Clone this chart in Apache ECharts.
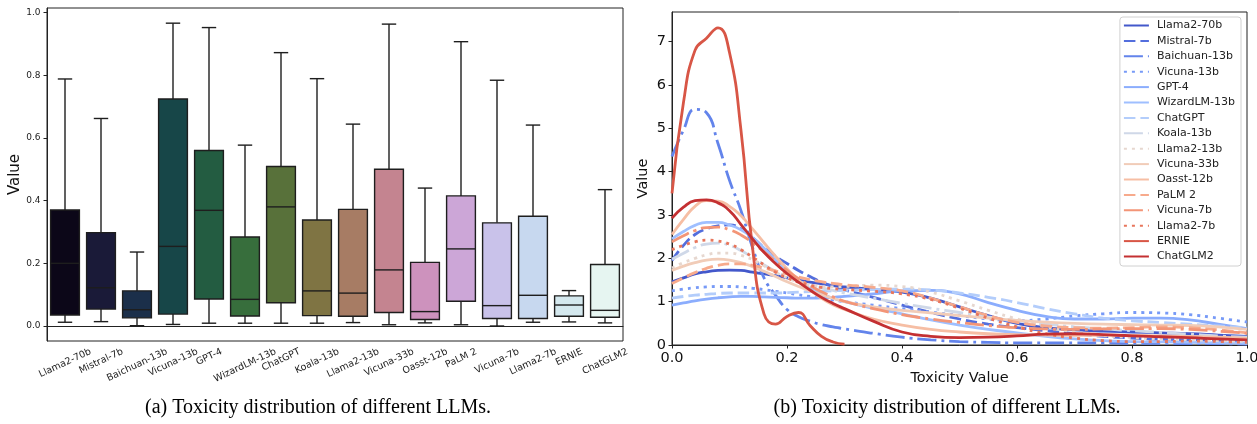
<!DOCTYPE html>
<html><head><meta charset="utf-8">
<script src="https://cdn.jsdelivr.net/npm/echarts@6/dist/echarts.min.js"></script>
<style>html,body{margin:0;padding:0;background:#fff}#chart{width:1257px;height:424px}</style>
</head><body><div id="chart"></div>
<script>
// ---------- Panel (a): box plot data ----------
const models = ['Llama2-70b','Mistral-7b','Baichuan-13b','Vicuna-13b','GPT-4','WizardLM-13b','ChatGPT','Koala-13b','Llama2-13b','Vicuna-33b','Oasst-12b','PaLM 2','Vicuna-7b','Llama2-7b','ERNIE','ChatGLM2'];
const boxLow    = [0.012,0.014,0.001,0.005,0.009,0.009,0.009,0.009,0.011,0.004,0.010,0.004,0.000,0.012,0.013,0.010];
const boxQ1     = [0.035,0.054,0.026,0.038,0.086,0.032,0.074,0.033,0.031,0.043,0.021,0.079,0.024,0.024,0.031,0.028];
const boxMedian = [0.200,0.122,0.052,0.254,0.369,0.085,0.380,0.112,0.105,0.179,0.046,0.246,0.065,0.098,0.067,0.050];
const boxQ3     = [0.370,0.298,0.112,0.724,0.560,0.284,0.509,0.338,0.372,0.500,0.203,0.415,0.329,0.350,0.096,0.196];
const boxHigh   = [0.788,0.662,0.236,0.966,0.952,0.577,0.872,0.789,0.644,0.963,0.440,0.907,0.784,0.641,0.113,0.435];
const boxColors = ['#0c0718','#1a1a38','#1b2f4a','#174648','#235c41','#376e3c','#58713a','#7f7443','#a77c64','#c48490','#cd92bd','#cca6d7','#c9c2ea','#c7d8ef','#d4e8ee','#e6f5f1'];
const yTicksA = [0, 0.2, 0.4, 0.6, 0.8, 1.0];

// ---------- Panel (b): density curves ----------
const toxicityGrid = [0,0.02,0.04,0.06,0.08,0.10,0.12,0.14,0.16,0.18,0.20,0.22,0.24,0.26,0.28,0.30,0.35,0.40,0.45,0.50,0.55,0.60,0.65,0.70,0.75,0.80,0.85,0.90,0.95,1.0];
const densLlama2_70b = [1.46,1.55,1.64,1.69,1.72,1.73,1.72,1.68,1.64,1.60,1.55,1.50,1.45,1.41,1.37,1.34,1.28,1.22,1.08,0.88,0.68,0.50,0.40,0.35,0.32,0.30,0.28,0.26,0.23,0.20];
const densMistral_7b = [1.95,2.30,2.55,2.68,2.75,2.77,2.68,2.48,2.25,2.05,1.88,1.72,1.58,1.45,1.35,1.27,1.10,0.92,0.75,0.60,0.48,0.40,0.33,0.26,0.20,0.16,0.13,0.12,0.11,0.10];
const densBaichuan_13b = [4.35,4.96,5.44,5.36,4.65,3.80,3.10,2.25,1.55,1.15,0.82,0.65,0.55,0.47,0.42,0.37,0.27,0.18,0.12,0.08,0.06,0.05,0.05,0.05,0.05,0.04,0.04,0.03,0.03,0.02];
const densVicuna_13b = [1.25,1.29,1.32,1.34,1.35,1.35,1.34,1.31,1.28,1.24,1.20,1.16,1.12,1.08,1.04,1.00,0.92,0.84,0.76,0.68,0.60,0.56,0.60,0.67,0.72,0.75,0.74,0.70,0.62,0.53];
const densGPT_4 = [0.92,0.97,1.02,1.06,1.09,1.11,1.12,1.12,1.11,1.10,1.09,1.08,1.08,1.09,1.10,1.12,1.18,1.25,1.26,1.18,0.98,0.80,0.66,0.60,0.60,0.62,0.62,0.58,0.48,0.38];
const densWizardLM_13b = [2.45,2.62,2.76,2.83,2.83,2.77,2.66,2.48,2.24,1.96,1.70,1.47,1.30,1.18,1.08,1.00,0.85,0.72,0.58,0.46,0.36,0.28,0.20,0.14,0.10,0.08,0.07,0.06,0.05,0.04];
const densChatGPT = [1.08,1.12,1.15,1.17,1.19,1.20,1.20,1.20,1.20,1.20,1.21,1.22,1.23,1.24,1.25,1.26,1.28,1.29,1.27,1.20,1.10,0.98,0.84,0.72,0.62,0.56,0.52,0.48,0.44,0.40];
const densKoala_13b = [1.98,2.12,2.25,2.33,2.35,2.30,2.18,2.02,1.85,1.70,1.57,1.47,1.39,1.32,1.26,1.20,1.08,0.96,0.85,0.75,0.65,0.56,0.48,0.42,0.37,0.33,0.29,0.25,0.21,0.18];
const densLlama2_13b = [1.78,1.90,2.00,2.08,2.12,2.12,2.07,1.97,1.83,1.68,1.55,1.45,1.38,1.35,1.34,1.35,1.38,1.35,1.22,1.02,0.80,0.60,0.42,0.30,0.22,0.17,0.14,0.12,0.10,0.08];
const densVicuna_33b = [1.72,1.82,1.90,1.96,1.98,1.96,1.90,1.81,1.70,1.58,1.46,1.35,1.25,1.16,1.08,1.00,0.88,0.80,0.74,0.68,0.62,0.57,0.53,0.50,0.48,0.47,0.46,0.45,0.42,0.36];
const densOasst_12b = [2.55,2.90,3.20,3.33,3.32,3.20,2.98,2.68,2.36,2.05,1.76,1.50,1.27,1.08,0.93,0.82,0.60,0.46,0.36,0.30,0.26,0.24,0.23,0.22,0.22,0.22,0.21,0.20,0.18,0.15];
const densPaLM_2 = [1.42,1.55,1.67,1.77,1.84,1.87,1.87,1.84,1.78,1.71,1.64,1.57,1.51,1.46,1.42,1.39,1.33,1.25,1.08,0.88,0.68,0.52,0.44,0.40,0.39,0.40,0.42,0.40,0.35,0.28];
const densVicuna_7b = [2.38,2.52,2.64,2.71,2.72,2.66,2.54,2.36,2.15,1.93,1.72,1.53,1.37,1.23,1.11,1.01,0.84,0.70,0.60,0.52,0.45,0.40,0.37,0.36,0.37,0.38,0.38,0.36,0.32,0.27];
const densLlama2_7b = [2.20,2.30,2.38,2.42,2.40,2.33,2.20,2.03,1.85,1.68,1.55,1.45,1.38,1.33,1.30,1.28,1.24,1.18,1.05,0.85,0.62,0.42,0.26,0.16,0.10,0.08,0.08,0.09,0.08,0.06];
const densERNIE = [3.50,5.60,6.80,7.08,7.32,6.75,4.95,2.25,0.72,0.48,0.66,0.75,0.45,0.20,0.07,0.02,null,null,null,null,null,null,null,null,null,null,null,null,null,null];
const densChatGLM2 = [2.93,3.18,3.33,3.35,3.28,3.10,2.78,2.45,2.14,1.88,1.65,1.45,1.27,1.10,0.96,0.84,0.55,0.30,0.20,0.17,0.18,0.21,0.25,0.26,0.24,0.21,0.19,0.17,0.14,0.12];
const densityList = [densLlama2_70b,densMistral_7b,densBaichuan_13b,densVicuna_13b,densGPT_4,densWizardLM_13b,densChatGPT,densKoala_13b,densLlama2_13b,densVicuna_33b,densOasst_12b,densPaLM_2,densVicuna_7b,densLlama2_7b,densERNIE,densChatGLM2];
const lineColors = ['#4358cb','#536edd','#6384eb','#779af7','#8badfd','#9fbfff','#b3cdfb','#cfd8e8','#e6d7cf','#f1ccb8','#f6bea4','#f7aa8c','#f39577','#e8765c','#d85646','#c43032'];
const lineKinds = ['solid','dash','dashdot','dot','solid','solid','dash','dashdot','dot','solid','solid','dash','dashdot','dot','solid','solid'];
const yTicksB = [0,1,2,3,4,5,6,7];

// ---------- styles ----------
const LW = 2.8;
const dashPatterns = { solid: 'solid', dash: [11.5, 5], dot: [3, 5], dashdot: [19, 5, 3, 5] };
const EDGE = '#1e1e1e';
const LABEL_FS = 9.5, ROT = 25;
const th = ROT * Math.PI / 180;
const ctx = document.createElement('canvas').getContext('2d');
ctx.font = LABEL_FS + 'px "DejaVu Sans"';
// rotated tick labels centred under their tick (matplotlib-like): shift each label down by half its rotated height
const catData = models.map(m => {
  const w = ctx.measureText(m).width;
  const h = LABEL_FS * 1.15;
  const half = (w * Math.sin(th) + h * Math.cos(th)) / 2;
  const a = half * Math.cos(th), b = half * Math.sin(th);
  return { value: m, textStyle: {
    align: 'center', verticalAlign: 'top', fontSize: LABEL_FS, color: '#222', fontFamily: 'DejaVu Sans',
    padding: [Math.max(0, a - LABEL_FS / 2), 2 * b, 0, 0] } };
});

const boxData = models.map((m, i) => [i, boxLow[i], boxQ1[i], boxMedian[i], boxQ3[i], boxHigh[i]]);

function renderBox(params, api) {
  const c = api.value(0);
  const xC = api.coord([c, 0])[0];
  const half = api.size([1, 0])[0] * 0.4;
  const y = v => api.coord([c, v])[1];
  const yLo = y(api.value(1)), yQ1 = y(api.value(2)), yMed = y(api.value(3)), yQ3 = y(api.value(4)), yHi = y(api.value(5));
  const ls = { stroke: EDGE, lineWidth: 1.4 };
  return { type: 'group', children: [
    { type: 'line', shape: { x1: xC, y1: yQ3, x2: xC, y2: yHi }, style: ls },
    { type: 'line', shape: { x1: xC - half / 2, y1: yHi, x2: xC + half / 2, y2: yHi }, style: ls },
    { type: 'line', shape: { x1: xC, y1: yQ1, x2: xC, y2: yLo }, style: ls },
    { type: 'line', shape: { x1: xC - half / 2, y1: yLo, x2: xC + half / 2, y2: yLo }, style: ls },
    { type: 'rect', shape: { x: xC - half, y: yQ3, width: 2 * half, height: yQ1 - yQ3 }, style: { fill: boxColors[c], stroke: EDGE, lineWidth: 1.4 } },
    { type: 'line', shape: { x1: xC - half, y1: yMed, x2: xC + half, y2: yMed }, style: ls }
  ]};
}

const lineSeries = models.map((m, i) => ({
  name: m, type: 'line', xAxisIndex: 1, yAxisIndex: 1,
  data: toxicityGrid.map((x, k) => [x, densityList[i][k]]).filter(p => p[1] !== null),
  showSymbol: false, symbol: 'none', smooth: 0.5, clip: true,
  lineStyle: { color: lineColors[i], width: LW, type: dashPatterns[lineKinds[i]], cap: 'butt' },
  itemStyle: { color: lineColors[i] },
  emphasis: { disabled: true }, z: 3 + i * 0.01
}));

const axisTextA = { color: '#222', fontFamily: 'DejaVu Sans' };
const option = {
  animation: false,
  textStyle: { fontFamily: 'DejaVu Sans' },
  title: [
    { text: '(a) Toxicity distribution of different LLMs.', left: 318, top: 398, textAlign: 'center', padding: 0,
      textStyle: { fontFamily: 'Liberation Serif', fontSize: 20, fontWeight: 'normal', color: '#000' } },
    { text: '(b) Toxicity distribution of different LLMs.', left: 947, top: 398, textAlign: 'center', padding: 0,
      textStyle: { fontFamily: 'Liberation Serif', fontSize: 20, fontWeight: 'normal', color: '#000' } }
  ],
  grid: [
    { left: 47, top: 8, width: 576, height: 333, show: true, borderColor: '#222', borderWidth: 1, outerBoundsMode: 'none', containLabel: false },
    { left: 672, top: 12, width: 575, height: 333, show: true, borderColor: '#222', borderWidth: 1, outerBoundsMode: 'none', containLabel: false }
  ],
  legend: {
    data: models, orient: 'vertical', right: 16, top: 17,
    itemWidth: 25, itemHeight: 12, itemGap: 4.4,
    padding: [3, 6, 4, 3],
    backgroundColor: '#fff', borderColor: '#d0d0d0', borderWidth: 1, borderRadius: 3,
    itemStyle: { opacity: 0 },
    textStyle: { fontSize: 11, color: '#222', fontFamily: 'DejaVu Sans', padding: [0, 0, 0, 3] },
    selectedMode: false
  },
  xAxis: [
    { gridIndex: 0, type: 'category', data: catData, boundaryGap: true,
      axisLine: { lineStyle: { color: '#222', width: 1 } },
      axisTick: { alignWithLabel: true, length: 3.5, lineStyle: { color: '#222' } },
      axisLabel: Object.assign({ interval: 0, rotate: ROT, fontSize: LABEL_FS, align: 'center', verticalAlign: 'top', margin: 5, hideOverlap: false }, axisTextA),
      splitLine: { show: false } },
    { gridIndex: 1, type: 'value', min: 0, max: 1, interval: 0.2,
      name: 'Toxicity Value', nameLocation: 'middle', nameGap: 23,
      nameTextStyle: { fontSize: 14.5, color: '#111', fontFamily: 'DejaVu Sans' },
      axisLine: { lineStyle: { color: '#222', width: 1 } },
      axisTick: { length: 3.5, lineStyle: { color: '#222' } },
      axisLabel: { fontSize: 14.5, color: '#111', margin: 6, formatter: v => v.toFixed(1), fontFamily: 'DejaVu Sans' },
      splitLine: { show: false } }
  ],
  yAxis: [
    { gridIndex: 0, type: 'value', min: -0.0478, max: 1.0144,
      name: 'Value', nameLocation: 'middle', nameGap: 24,
      nameTextStyle: { fontSize: 15, color: '#111', fontFamily: 'DejaVu Sans' },
      axisLine: { show: true, lineStyle: { color: '#222', width: 1 } },
      axisTick: { show: true, length: 3.5, lineStyle: { color: '#222' }, customValues: yTicksA },
      axisLabel: Object.assign({ fontSize: 9, margin: 6.5, formatter: v => v.toFixed(1), customValues: yTicksA }, axisTextA),
      splitLine: { show: false } },
    { gridIndex: 1, type: 'value', min: 0, max: 7.685,
      name: 'Value', nameLocation: 'middle', nameGap: 21,
      nameTextStyle: { fontSize: 14.5, color: '#111', fontFamily: 'DejaVu Sans' },
      axisLine: { show: true, lineStyle: { color: '#222', width: 1 } },
      axisTick: { show: true, length: 3.5, lineStyle: { color: '#222' }, customValues: yTicksB },
      axisLabel: { fontSize: 14.5, color: '#111', margin: 6, customValues: yTicksB, formatter: v => String(v), fontFamily: 'DejaVu Sans' },
      splitLine: { show: false } }
  ],
  series: [
    { type: 'custom', xAxisIndex: 0, yAxisIndex: 0, data: boxData, renderItem: renderBox,
      encode: { x: 0, y: [1, 2, 3, 4, 5] }, silent: true, z: 2 }
  ].concat(lineSeries)
};
const chart = echarts.init(document.getElementById('chart'), null, { renderer: 'canvas' });
chart.setOption(option);
</script>
</body></html>
